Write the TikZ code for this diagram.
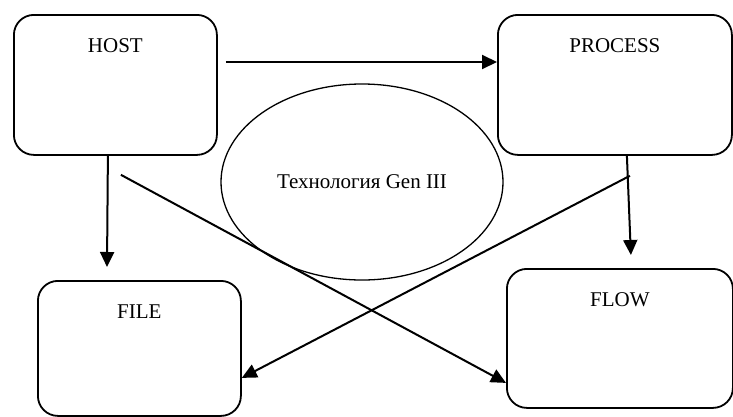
\documentclass[tikz,border=0pt]{standalone}
\usepackage{fontspec}
\setmainfont{Liberation Serif}
\usetikzlibrary{arrows.meta,shapes.geometric,positioning,calc}

\tikzset{
	box/.style={draw, line width=1.8pt, rounded corners=20pt, anchor=north west,
		font=\fontsize{21}{25}\selectfont, inner ysep=24pt,
		text height=14pt, text depth=78pt},
	arr/.style={line width=2pt, -{Triangle[length=15pt,width=14pt]}}
}

\begin{document}
\begin{tikzpicture}[x=1pt, y=-1pt]
		\useasboundingbox (0,0) rectangle (733,416);
		% the four boxes
		\node[box, minimum width=203pt] (host) at (13,14) {HOST};
		\node[box, minimum width=234pt] (process) at (497,14) {PROCESS};
		\node[box, minimum width=203pt, text depth=73pt] (file) at (37,280) {FILE};
		\node[box, minimum width=226pt, text depth=77pt] (flow) at (506,268) {FLOW};
		% oval in the middle
		\node[draw, ellipse, line width=1.3pt, inner sep=0pt,
		minimum width=282pt, minimum height=196pt,
		font=\fontsize{21}{25}\selectfont] (gen) at (362,182) {Технология Gen III};
		% connectors
		\draw[arr] ([xshift=8pt,yshift=-48pt]host.north east) -- ([yshift=-48pt]process.north west);
		\draw[arr] ([xshift=-7.5pt]host.south) -- ([xshift=70pt,yshift=13pt]file.north west);
		\draw[arr] ([xshift=5.5pt,yshift=-19pt]host.south) -- ([yshift=-44.5pt]flow.west);
		\draw[arr] ([xshift=12pt]process.south) -- ([xshift=11pt,yshift=13pt]flow.north);
		\draw[arr] ([xshift=15pt,yshift=-20pt]process.south) -- ([yshift=-29.5pt]file.east);
\end{tikzpicture}
\end{document}
